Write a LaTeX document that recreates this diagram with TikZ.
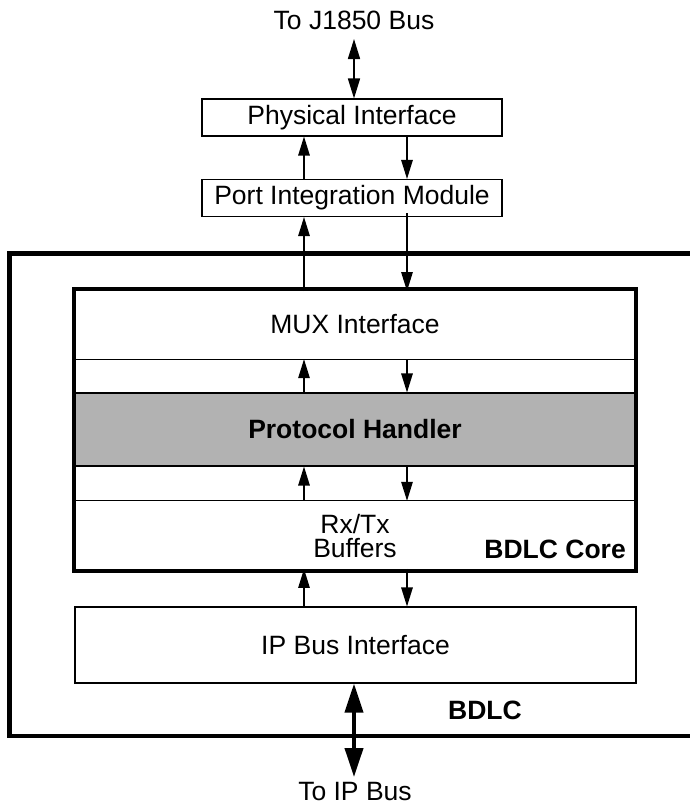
\documentclass[tikz,border=0pt]{standalone}
\usepackage{fontspec}
\setmainfont{Liberation Sans}
\usetikzlibrary{arrows.meta}
\tikzset{
  txt/.style={font=\fontsize{26.5}{24}\selectfont, inner sep=0pt},
  btxt/.style={font=\fontsize{26.5}{24}\selectfont\bfseries, inner sep=0pt},
  thinbox/.style={draw, line width=1.1pt, minimum width=300pt, minimum height=37pt, inner sep=0pt, font=\fontsize{26.5}{24}\selectfont},
  layer/.style={minimum width=562pt, inner sep=0pt, font=\fontsize{26.5}{24}\selectfont, align=center},
  arr/.style={line width=1.3pt, -{Triangle[length=19pt,width=11.5pt]}},
  darr/.style={line width=1.6pt, {Triangle[length=20pt,width=12pt]}-{Triangle[length=20pt,width=12pt]}},
  bigarr/.style={line width=4pt, {Triangle[length=29pt,width=18pt]}-{Triangle[length=29pt,width=18pt]}},
  heavy/.style={line width=4.5pt},
  divider/.style={line width=1.1pt}
}
\begin{document}
\begin{tikzpicture}[x=1pt,y=-1pt]
\useasboundingbox (0,0) rectangle (690,806);
% outer BDLC frame (open on the right)
\draw[heavy] (690,253.5) -- (9.5,253.5) -- (9.5,736) -- (690,736);
% top
\node[txt] (j1850) at (354,20) {To J1850 Bus};
\node[thinbox] (phy) at (352,117.5) {Physical Interface};
\node[thinbox] (pim) at (352,198) {Port Integration Module};
% core layers
\node[layer, minimum height=70pt] (mux) at (355,324) {MUX Interface};
\node[layer, minimum height=73pt, fill=gray!60, draw, line width=1.1pt, font=\fontsize{26.5}{24}\selectfont\bfseries] (ph) at (355,429.5) {Protocol Handler};
\node[layer, minimum height=70pt] (buf) at (355,536) {Rx/Tx\\Buffers};
\draw[divider] (mux.south west) -- (mux.south east);
\draw[divider] (buf.north west) -- (buf.north east);
\draw[heavy] (mux.north west) rectangle (buf.south east);
\node[btxt, anchor=base east] (corelbl) at (626,558.5) {BDLC Core};
% IP bus
\node[draw, line width=1.1pt, minimum width=561pt, minimum height=76pt, inner sep=0pt, font=\fontsize{26.5}{24}\selectfont] (ip) at (355.5,645) {IP Bus Interface};
\node[btxt] (bdlc) at (485,710) {BDLC};
\node[txt] (ipbus) at (355,791.5) {To IP Bus};
\coordinate (tipbus) at (354,777);
\coordinate (tj) at (354,39);
% arrow columns
\coordinate (U) at (304,0);
\coordinate (D) at (407,0);
\coordinate (M) at (354,0);
% connectors
\draw[darr] (tj) -- (M |- phy.north);
\draw[arr] (U |- pim.north) -- (U |- phy.south);
\draw[arr] (D |- phy.south) -- (D |- pim.north);
\draw[arr] ([yshift=-2.25pt]U |- mux.north) -- (U |- pim.south);
\draw[arr] ([yshift=4pt]D |- pim.south) -- ([yshift=-2.25pt]D |- mux.north);
\draw[arr] (U |- ph.north) -- (U |- mux.south);
\draw[arr] (D |- mux.south) -- (D |- ph.north);
\draw[arr] (U |- buf.north) -- (U |- ph.south);
\draw[arr] (D |- ph.south) -- (D |- buf.north);
\draw[arr] (U |- ip.north) -- ([yshift=2.25pt]U |- buf.south);
\draw[arr] ([yshift=2.25pt]D |- buf.south) -- (D |- ip.north);
\draw[bigarr] (M |- ip.south) -- (tipbus);
\end{tikzpicture}
\end{document}
